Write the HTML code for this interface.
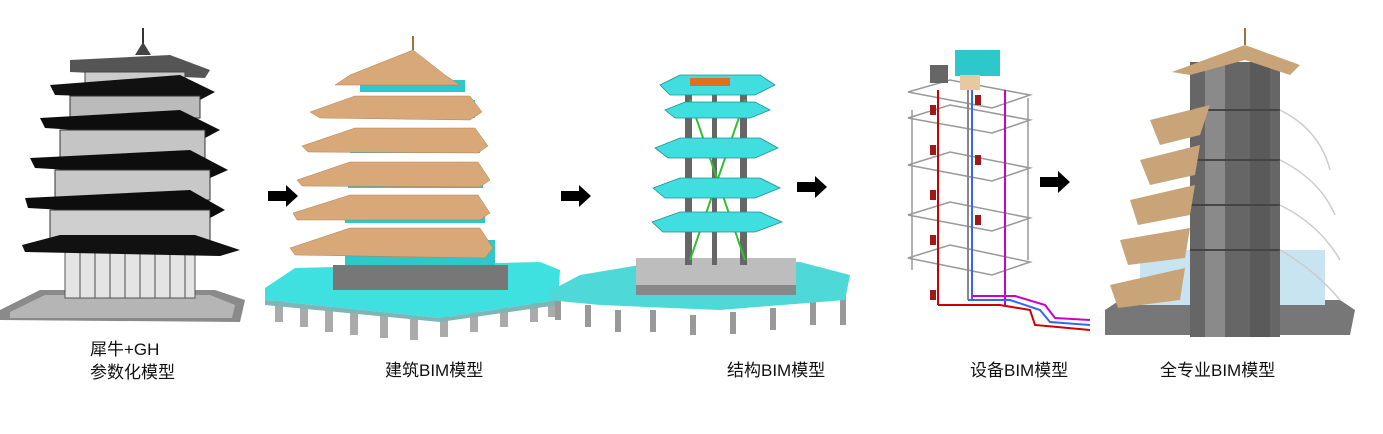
<!DOCTYPE html>
<html><head><meta charset="utf-8"><style>
html,body{margin:0;padding:0;background:#fff;}
svg{display:block}
text{font-family:"Liberation Sans","Noto Sans CJK SC",sans-serif;font-size:17px;fill:#111}
</style></head><body>
<svg width="1383" height="434" viewBox="0 0 1383 434" xmlns="http://www.w3.org/2000/svg">
<!-- Model 1 -->
<g>
<polygon points="0,310 40,290 215,290 245,300 240,322 0,320" fill="#8a8a8a"/>
<polygon points="10,312 45,295 210,295 235,305 232,318 10,318" fill="#b5b5b5"/>
<rect x="65" y="250" width="130" height="48" fill="#e4e4e4" stroke="#555"/>
<g stroke="#666" stroke-width="1.2">
<line x1="80" y1="252" x2="80" y2="298"/><line x1="95" y1="252" x2="95" y2="298"/><line x1="110" y1="252" x2="110" y2="298"/><line x1="125" y1="252" x2="125" y2="298"/><line x1="140" y1="252" x2="140" y2="298"/><line x1="155" y1="252" x2="155" y2="298"/><line x1="170" y1="252" x2="170" y2="298"/><line x1="185" y1="252" x2="185" y2="298"/>
</g>
<line x1="143" y1="28" x2="143" y2="50" stroke="#333" stroke-width="2"/>
<polygon points="135,55 143,42 151,55" fill="#444"/>
<polygon points="70,60 170,55 210,70 205,78 70,72" fill="#555"/>
<rect x="85" y="72" width="100" height="20" fill="#ccc" stroke="#444"/>
<polygon points="50,85 180,75 215,92 200,100 55,95" fill="#111"/>
<rect x="70" y="96" width="130" height="22" fill="#bbb" stroke="#333"/>
<polygon points="40,118 180,110 220,130 205,138 45,128" fill="#0d0d0d"/>
<rect x="60" y="130" width="145" height="28" fill="#c5c5c5" stroke="#333"/>
<polygon points="30,158 190,150 228,170 210,178 35,168" fill="#0d0d0d"/>
<rect x="55" y="170" width="155" height="30" fill="#c8c8c8" stroke="#333"/>
<polygon points="25,198 190,190 225,210 210,218 28,208" fill="#0d0d0d"/>
<rect x="50" y="210" width="160" height="32" fill="#cfcfcf" stroke="#333"/>
<polygon points="22,245 60,235 195,235 240,250 220,256 25,252" fill="#111"/>
</g>
<!-- arrows -->
<g fill="#000">
<polygon points="268,191 286,191 286,185 298,196 286,207 286,201 268,201"/>
<polygon points="561,191 579,191 579,185 591,196 579,207 579,201 561,201"/>
<polygon points="797,182 815,182 815,176 827,187 815,198 815,192 797,192"/>
<polygon points="1040,177 1058,177 1058,171 1070,182 1058,193 1058,187 1040,187"/>
</g>
<!-- Model 2 -->
<g>
<g fill="#aaa"><rect x="275" y="300" width="8" height="22"/><rect x="300" y="305" width="8" height="22"/><rect x="325" y="310" width="8" height="22"/><rect x="350" y="313" width="8" height="22"/><rect x="380" y="316" width="8" height="22"/><rect x="410" y="318" width="8" height="22"/><rect x="440" y="315" width="8" height="22"/><rect x="470" y="310" width="8" height="22"/><rect x="500" y="305" width="8" height="22"/><rect x="530" y="300" width="8" height="22"/><rect x="548" y="295" width="8" height="22"/></g>
<polygon points="265,288 295,268 540,262 560,270 558,300 440,318 265,300" fill="#3fe0e0"/>
<polygon points="265,300 440,318 558,300 558,305 440,322 265,305" fill="#7fb5b5"/>
<rect x="333" y="265" width="175" height="25" fill="#777"/>
<g fill="#2ec8c8"><rect x="345" y="240" width="150" height="25"/><rect x="345" y="205" width="140" height="18"/><rect x="348" y="170" width="135" height="18"/><rect x="350" y="135" width="130" height="18"/><rect x="355" y="100" width="120" height="18"/><rect x="360" y="80" width="105" height="12"/></g>
<g fill="#d8a878" stroke="#b08050" stroke-width=".5">
<polygon points="413,50 445,75 460,85 335,85 350,75"/>
<polygon points="310,112 355,96 470,96 482,112 470,120 320,118"/>
<polygon points="302,146 355,128 475,128 488,146 478,153 308,152"/>
<polygon points="297,180 350,162 478,162 490,180 480,187 302,186"/>
<polygon points="293,213 350,195 478,195 490,213 480,220 297,220"/>
<polygon points="290,248 350,228 480,228 493,248 485,258 295,255"/>
</g>
<line x1="413" y1="50" x2="413" y2="36" stroke="#a07040" stroke-width="2"/>
</g>
<!-- Model 3 -->
<g>
<g fill="#999"><rect x="555" y="300" width="6" height="20"/><rect x="585" y="305" width="6" height="22"/><rect x="615" y="310" width="6" height="22"/><rect x="650" y="310" width="6" height="22"/><rect x="690" y="315" width="6" height="20"/><rect x="730" y="312" width="6" height="22"/><rect x="770" y="308" width="6" height="22"/><rect x="810" y="300" width="6" height="25"/><rect x="840" y="290" width="6" height="35"/></g>
<polygon points="548,292 580,275 640,265 800,262 850,275 845,300 720,310 600,305 548,300" fill="#4fd8d8"/>
<rect x="636" y="258" width="160" height="35" fill="#bdbdbd"/>
<rect x="636" y="285" width="160" height="10" fill="#888"/>
<g fill="#666"><rect x="685" y="80" width="7" height="185"/><rect x="740" y="80" width="7" height="185"/><rect x="712" y="80" width="5" height="185"/></g>
<g stroke="#30c030" stroke-width="2"><line x1="690" y1="100" x2="745" y2="260"/><line x1="745" y1="100" x2="690" y2="260"/></g>
<g fill="#40dede" stroke="#209090" stroke-width=".8">
<polygon points="660,85 680,75 760,75 775,85 755,95 670,95"/>
<polygon points="665,110 685,102 755,102 770,110 750,118 675,118"/>
<polygon points="655,148 680,138 760,138 778,148 755,158 668,158"/>
<polygon points="653,188 680,178 760,178 780,188 755,198 665,198"/>
<polygon points="652,222 680,212 760,212 782,222 755,232 663,232"/>
</g>
<rect x="690" y="78" width="40" height="8" fill="#e07020"/>
</g>
<!-- Model 4 -->
<g fill="none" stroke="#999" stroke-width="1.5">
<polygon points="908,92 950,80 1030,95 992,108"/>
<polygon points="908,118 950,105 1030,120 992,133"/>
<polygon points="908,165 950,152 1030,168 992,181"/>
<polygon points="908,215 950,202 1030,218 992,231"/>
<polygon points="908,258 950,245 1030,262 992,275"/>
<line x1="912" y1="110" x2="912" y2="270"/><line x1="1028" y1="98" x2="1028" y2="260"/>
</g>
<g stroke-width="2" fill="none">
<line x1="938" y1="90" x2="938" y2="305" stroke="#c00"/>
<line x1="968" y1="85" x2="968" y2="300" stroke="#888"/>
<line x1="972" y1="85" x2="972" y2="300" stroke="#36f"/>
<line x1="1005" y1="90" x2="1005" y2="305" stroke="#c0c"/>
<polyline points="938,305 1000,305 1030,310 1035,325 1090,330" stroke="#c00"/>
<polyline points="968,300 1010,300 1040,310 1050,322 1090,325" stroke="#36f"/>
<polyline points="972,296 1015,296 1045,305 1055,318 1090,320" stroke="#c0c"/>
</g>
<g fill="#a01818"><rect x="930" y="105" width="6" height="10"/><rect x="930" y="145" width="6" height="10"/><rect x="930" y="190" width="6" height="10"/><rect x="930" y="235" width="6" height="10"/><rect x="930" y="290" width="6" height="10"/><rect x="975" y="95" width="6" height="10"/><rect x="975" y="155" width="6" height="10"/><rect x="975" y="215" width="6" height="10"/></g>
<rect x="955" y="50" width="45" height="26" fill="#2cc8cc"/>
<rect x="930" y="65" width="18" height="18" fill="#666"/>
<rect x="960" y="75" width="20" height="15" fill="#e8c8a0"/>
<!-- Model 5 -->
<g>
<polygon points="1105,310 1120,300 1340,300 1355,310 1350,335 1105,335" fill="#777"/>
<rect x="1140" y="250" width="60" height="55" fill="#c8e4f0"/>
<rect x="1275" y="250" width="50" height="55" fill="#c8e4f0"/>
<rect x="1190" y="62" width="90" height="275" fill="#666"/>
<rect x="1205" y="62" width="20" height="275" fill="#8a8a8a"/>
<rect x="1250" y="62" width="20" height="275" fill="#5a5a5a"/>
<g stroke="#444" stroke-width="2"><line x1="1190" y1="110" x2="1280" y2="110"/><line x1="1190" y1="160" x2="1280" y2="160"/><line x1="1190" y1="205" x2="1280" y2="205"/><line x1="1190" y1="250" x2="1280" y2="250"/></g>
<g fill="#c8a478">
<polygon points="1172,72 1245,45 1300,65 1290,75 1245,60 1190,75"/>
<polygon points="1150,120 1210,105 1200,135 1160,145"/>
<polygon points="1140,160 1200,145 1195,175 1150,185"/>
<polygon points="1130,200 1195,185 1190,215 1138,225"/>
<polygon points="1120,240 1190,228 1185,258 1128,265"/>
<polygon points="1110,285 1185,268 1180,300 1118,308"/>
</g>
<g stroke="#ccc" stroke-width="1.5" fill="none">
<path d="M1280,110 Q1320,130 1330,170"/><path d="M1280,160 Q1320,180 1335,215"/><path d="M1280,205 Q1320,225 1340,260"/><path d="M1280,250 Q1315,270 1340,300"/>
</g>
<line x1="1245" y1="45" x2="1245" y2="28" stroke="#a07040" stroke-width="2"/>
</g>
<!-- labels -->
<text x="90" y="355">犀牛+GH</text>
<text x="90" y="378">参数化模型</text>
<text x="385" y="376">建筑BIM模型</text>
<text x="727" y="376">结构BIM模型</text>
<text x="970" y="376">设备BIM模型</text>
<text x="1160" y="376">全专业BIM模型</text>
</svg>
</body></html>
